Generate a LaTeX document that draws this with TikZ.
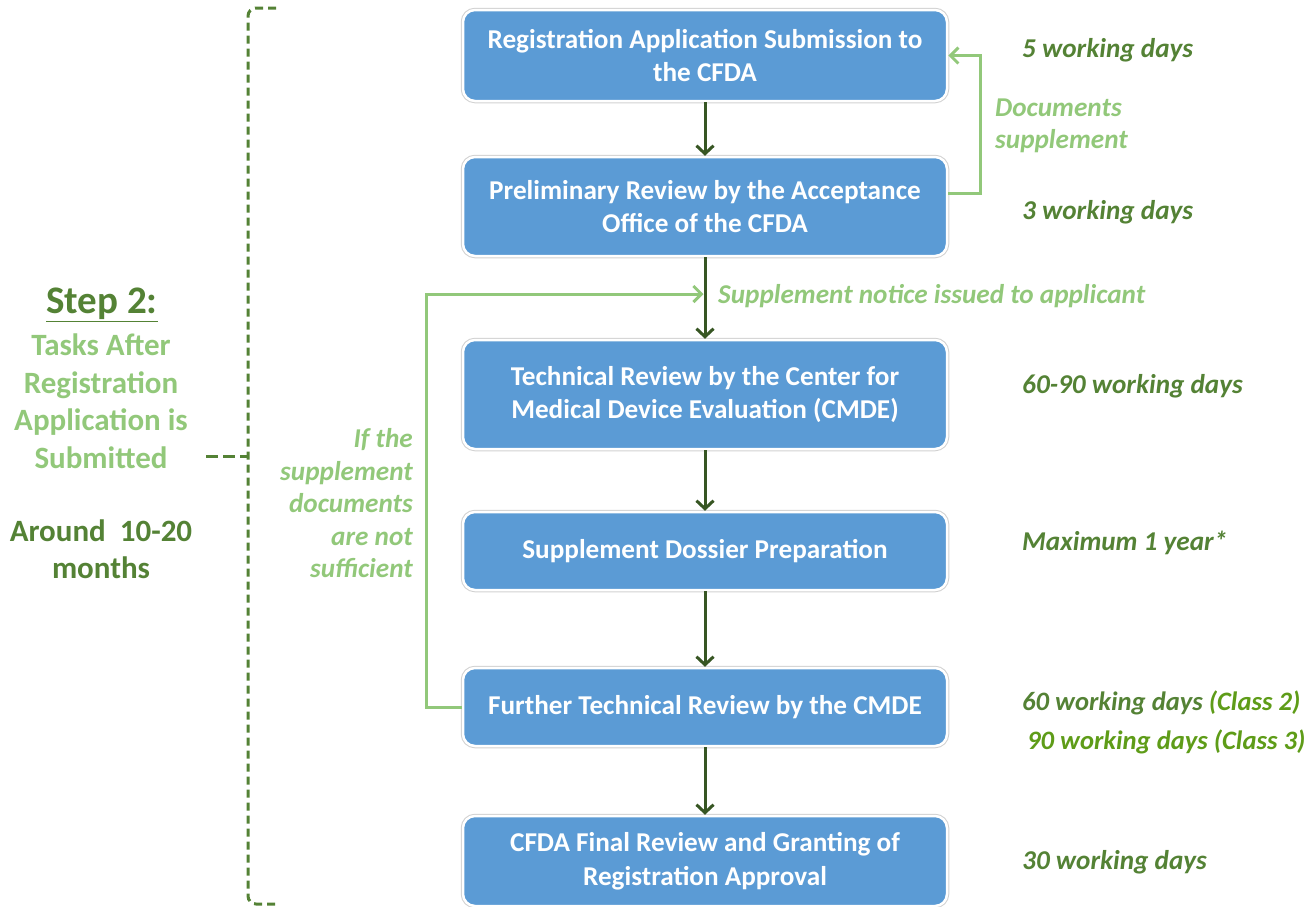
\documentclass[tikz,border=0pt]{standalone}
\usepackage{fontspec}
\setmainfont{Carlito}
\usetikzlibrary{arrows.meta}
\definecolor{boxblue}{HTML}{5B9BD5}
\definecolor{dkgreen}{HTML}{548235}
\definecolor{ltgreen}{HTML}{92C87A}
\definecolor{arrgreen}{HTML}{375623}
\definecolor{clsgreen}{HTML}{5E9C18}
\tikzset{
  procbox/.style={rectangle, rounded corners=12pt, fill=boxblue, draw=white, line width=2.5pt,
    preaction={draw=black!18, line width=4.5pt}, minimum width=484pt, text=white,
    font=\fontsize{27.2}{33.5}\selectfont\bfseries, align=center, inner sep=0pt},
  darrow/.style={draw=arrgreen, line width=3pt, -{Straight Barb[length=8pt,width=17pt,line width=3pt]}},
  larrow/.style={draw=ltgreen, line width=3pt, -{Straight Barb[length=8pt,width=16pt,line width=3pt]}},
  timelbl/.style={anchor=west, text=dkgreen, font=\fontsize{27.2}{32}\selectfont\bfseries\itshape, inner sep=0pt},
  clslbl/.style={anchor=west, text=dkgreen, font=\fontsize{26.6}{32}\selectfont\bfseries\itshape, inner sep=0pt},
  notelbl/.style={text=ltgreen, font=\fontsize{27.2}{32.5}\selectfont\bfseries\itshape, inner sep=0pt},
  sidelbl/.style={font=\fontsize{31}{37.5}\selectfont\bfseries, align=center, inner sep=0pt},
  bracestyle/.style={draw=dkgreen, line width=3pt, dash pattern=on 8pt off 5pt, rounded corners=8pt}
}
\begin{document}
\begin{tikzpicture}[x=1pt,y=-1pt]
\useasboundingbox (0,0) rectangle (1310,906);
% process boxes
\node[procbox, minimum height=91pt] (b1) at (705,55.5) {Registration Application Submission to\\the CFDA};
\node[procbox, minimum height=99pt] (b2) at (705,206.5) {Preliminary Review by the Acceptance\\Office of the CFDA};
\node[procbox, minimum height=109pt] (b3) at (705,394.5) {Technical Review by the Center for\\Medical Device Evaluation (CMDE)};
\node[procbox, minimum height=78pt] (b4) at (705,551) {Supplement Dossier Preparation};
\node[procbox, minimum height=78pt] (b5) at (705,707) {Further Technical Review by the CMDE};
\node[procbox, minimum height=90pt] (b6) at (705,861) {CFDA Final Review and Granting of\\Registration Approval};
\coordinate (j) at (705,294);
% main arrows
\draw[darrow] (b1.south) -- (b2.north);
\draw[darrow] (b2.south) -- (b3.north);
\draw[darrow] (b3.south) -- (b4.north);
\draw[darrow] (b4.south) -- (b5.north);
\draw[darrow] (b5.south) -- (b6.north);
% feedback loops
\draw[larrow] ([yshift=13pt]b2.east) -- ++(32,0) |- (b1.east);
\draw[larrow, shorten >=1.5pt] (b5.west) -- ++(-35,0) |- (j);
% labels on loops
\node[notelbl, anchor=west, align=left] (docs) at (995,126) {Documents\\supplement};
\node[notelbl, anchor=west] (notice) at (718,296) {Supplement notice issued to applicant};
\node[notelbl, anchor=east, align=right] (ifnot) at (413,503.5) {If the\\supplement\\documents\\are not\\sufficient};
% time labels
\node[timelbl] (t1) at (1022,50) {5 working days};
\node[timelbl] (t2) at (1022,212) {3 working days};
\node[timelbl] (t3) at (1022,386) {60-90 working days};
\node[timelbl] (t4) at (1022,543) {Maximum 1 year*};
\node[clslbl] (t5) at (1022,703) {60 working days {\color{clsgreen}(Class 2)}};
\node[clslbl, text=clsgreen] (t6) at (1027,742) {90 working days (Class 3)};
\node[timelbl] (t7) at (1022,862) {30 working days};
% left side
\node[sidelbl, text=dkgreen, font=\fontsize{39}{42}\selectfont\bfseries] (step) at (102,305) {\underline{Step 2:}};
\node[sidelbl, text=ltgreen] (tasks) at (101,401) {Tasks After\\Registration\\Application is\\Submitted};
\node[sidelbl, text=dkgreen] (around) at (101,549) {Around\ \ 10-20\\months};
% brace
\draw[bracestyle] (276,8) -- (248,8) -- (248,904) -- (276,904);
\draw[draw=dkgreen, line width=3pt, dash pattern=on 12pt off 5pt] (206,456) -- (247,456);
\end{tikzpicture}
\end{document}
